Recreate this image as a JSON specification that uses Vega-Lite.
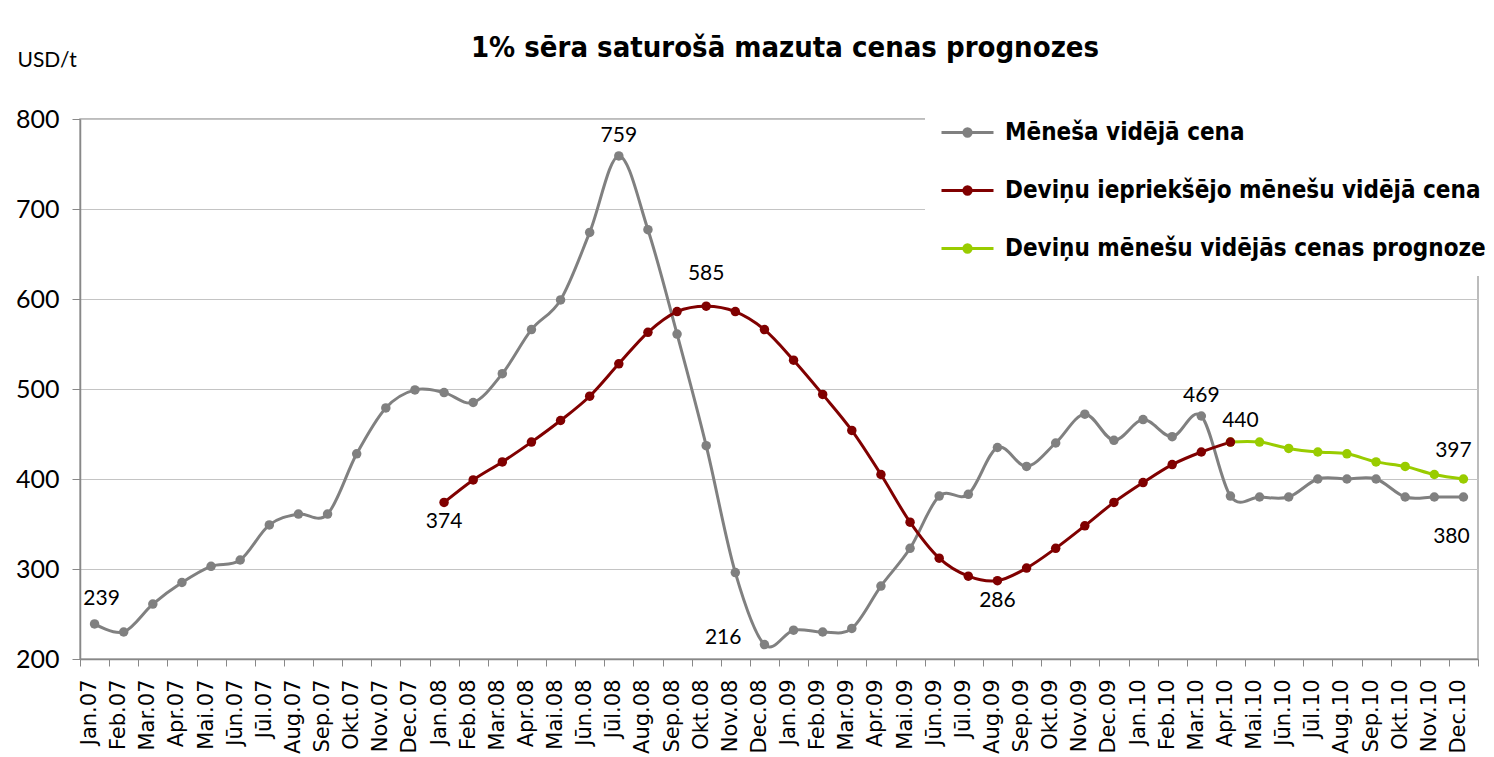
{
  "$schema": "https://vega.github.io/schema/vega-lite/v6.json",
  "width": 1398,
  "height": 540,
  "autosize": {"type": "none"},
  "padding": {"left": 80, "top": 119, "right": 16, "bottom": 98},
  "background": "white",
  "title": {
    "text": "1% sēra saturošā mazuta cenas prognozes",
    "font": "DejaVu Sans Condensed, DejaVu Sans",
    "fontSize": 29,
    "fontWeight": "bold",
    "color": "black",
    "anchor": "middle",
    "frame": "group",
    "baseline": "alphabetic",
    "offset": -37,
    "dx": 6
  },
  "config": {
    "view": {"stroke": "#a6a6a6", "strokeWidth": 1.5}
  },
  "data": {
    "values": [
      {"m": "Jan.07", "s": "Mēneša vidējā cena", "v": 239, "lab": 239},
      {"m": "Feb.07", "s": "Mēneša vidējā cena", "v": 230},
      {"m": "Mar.07", "s": "Mēneša vidējā cena", "v": 261},
      {"m": "Apr.07", "s": "Mēneša vidējā cena", "v": 285},
      {"m": "Mai.07", "s": "Mēneša vidējā cena", "v": 303},
      {"m": "Jūn.07", "s": "Mēneša vidējā cena", "v": 310},
      {"m": "Jūl.07", "s": "Mēneša vidējā cena", "v": 349},
      {"m": "Aug.07", "s": "Mēneša vidējā cena", "v": 361},
      {"m": "Sep.07", "s": "Mēneša vidējā cena", "v": 361},
      {"m": "Okt.07", "s": "Mēneša vidējā cena", "v": 428},
      {"m": "Nov.07", "s": "Mēneša vidējā cena", "v": 479},
      {"m": "Dec.07", "s": "Mēneša vidējā cena", "v": 499},
      {"m": "Jan.08", "s": "Mēneša vidējā cena", "v": 496},
      {"m": "Feb.08", "s": "Mēneša vidējā cena", "v": 485},
      {"m": "Mar.08", "s": "Mēneša vidējā cena", "v": 517},
      {"m": "Apr.08", "s": "Mēneša vidējā cena", "v": 566},
      {"m": "Mai.08", "s": "Mēneša vidējā cena", "v": 599},
      {"m": "Jūn.08", "s": "Mēneša vidējā cena", "v": 674},
      {"m": "Jūl.08", "s": "Mēneša vidējā cena", "v": 759, "lab": 759},
      {"m": "Aug.08", "s": "Mēneša vidējā cena", "v": 677},
      {"m": "Sep.08", "s": "Mēneša vidējā cena", "v": 561},
      {"m": "Okt.08", "s": "Mēneša vidējā cena", "v": 437},
      {"m": "Nov.08", "s": "Mēneša vidējā cena", "v": 296},
      {"m": "Dec.08", "s": "Mēneša vidējā cena", "v": 216, "lab": 216},
      {"m": "Jan.09", "s": "Mēneša vidējā cena", "v": 232},
      {"m": "Feb.09", "s": "Mēneša vidējā cena", "v": 230},
      {"m": "Mar.09", "s": "Mēneša vidējā cena", "v": 234},
      {"m": "Apr.09", "s": "Mēneša vidējā cena", "v": 281},
      {"m": "Mai.09", "s": "Mēneša vidējā cena", "v": 323},
      {"m": "Jūn.09", "s": "Mēneša vidējā cena", "v": 381},
      {"m": "Jūl.09", "s": "Mēneša vidējā cena", "v": 383},
      {"m": "Aug.09", "s": "Mēneša vidējā cena", "v": 435},
      {"m": "Sep.09", "s": "Mēneša vidējā cena", "v": 414},
      {"m": "Okt.09", "s": "Mēneša vidējā cena", "v": 440},
      {"m": "Nov.09", "s": "Mēneša vidējā cena", "v": 472},
      {"m": "Dec.09", "s": "Mēneša vidējā cena", "v": 443},
      {"m": "Jan.10", "s": "Mēneša vidējā cena", "v": 466},
      {"m": "Feb.10", "s": "Mēneša vidējā cena", "v": 447},
      {"m": "Mar.10", "s": "Mēneša vidējā cena", "v": 470, "lab": 469},
      {"m": "Apr.10", "s": "Mēneša vidējā cena", "v": 381},
      {"m": "Mai.10", "s": "Mēneša vidējā cena", "v": 380},
      {"m": "Jūn.10", "s": "Mēneša vidējā cena", "v": 380},
      {"m": "Jūl.10", "s": "Mēneša vidējā cena", "v": 400},
      {"m": "Aug.10", "s": "Mēneša vidējā cena", "v": 400},
      {"m": "Sep.10", "s": "Mēneša vidējā cena", "v": 400},
      {"m": "Okt.10", "s": "Mēneša vidējā cena", "v": 380},
      {"m": "Nov.10", "s": "Mēneša vidējā cena", "v": 380},
      {"m": "Dec.10", "s": "Mēneša vidējā cena", "v": 380, "lab": 380},
      {"m": "Apr.10", "s": "Deviņu mēnešu vidējās cenas prognoze", "v": 441},
      {"m": "Mai.10", "s": "Deviņu mēnešu vidējās cenas prognoze", "v": 441},
      {"m": "Jūn.10", "s": "Deviņu mēnešu vidējās cenas prognoze", "v": 434},
      {"m": "Jūl.10", "s": "Deviņu mēnešu vidējās cenas prognoze", "v": 430},
      {"m": "Aug.10", "s": "Deviņu mēnešu vidējās cenas prognoze", "v": 428},
      {"m": "Sep.10", "s": "Deviņu mēnešu vidējās cenas prognoze", "v": 419},
      {"m": "Okt.10", "s": "Deviņu mēnešu vidējās cenas prognoze", "v": 414},
      {"m": "Nov.10", "s": "Deviņu mēnešu vidējās cenas prognoze", "v": 405},
      {"m": "Dec.10", "s": "Deviņu mēnešu vidējās cenas prognoze", "v": 400, "lab": 397},
      {"m": "Jan.08", "s": "Deviņu iepriekšējo mēnešu vidējā cena", "v": 374, "lab": 374},
      {"m": "Feb.08", "s": "Deviņu iepriekšējo mēnešu vidējā cena", "v": 399},
      {"m": "Mar.08", "s": "Deviņu iepriekšējo mēnešu vidējā cena", "v": 419},
      {"m": "Apr.08", "s": "Deviņu iepriekšējo mēnešu vidējā cena", "v": 441},
      {"m": "Mai.08", "s": "Deviņu iepriekšējo mēnešu vidējā cena", "v": 465},
      {"m": "Jūn.08", "s": "Deviņu iepriekšējo mēnešu vidējā cena", "v": 492},
      {"m": "Jūl.08", "s": "Deviņu iepriekšējo mēnešu vidējā cena", "v": 528},
      {"m": "Aug.08", "s": "Deviņu iepriekšējo mēnešu vidējā cena", "v": 563},
      {"m": "Sep.08", "s": "Deviņu iepriekšējo mēnešu vidējā cena", "v": 586},
      {"m": "Okt.08", "s": "Deviņu iepriekšējo mēnešu vidējā cena", "v": 592, "lab": 585},
      {"m": "Nov.08", "s": "Deviņu iepriekšējo mēnešu vidējā cena", "v": 586},
      {"m": "Dec.08", "s": "Deviņu iepriekšējo mēnešu vidējā cena", "v": 566},
      {"m": "Jan.09", "s": "Deviņu iepriekšējo mēnešu vidējā cena", "v": 532},
      {"m": "Feb.09", "s": "Deviņu iepriekšējo mēnešu vidējā cena", "v": 494},
      {"m": "Mar.09", "s": "Deviņu iepriekšējo mēnešu vidējā cena", "v": 454},
      {"m": "Apr.09", "s": "Deviņu iepriekšējo mēnešu vidējā cena", "v": 405},
      {"m": "Mai.09", "s": "Deviņu iepriekšējo mēnešu vidējā cena", "v": 352},
      {"m": "Jūn.09", "s": "Deviņu iepriekšējo mēnešu vidējā cena", "v": 312},
      {"m": "Jūl.09", "s": "Deviņu iepriekšējo mēnešu vidējā cena", "v": 292},
      {"m": "Aug.09", "s": "Deviņu iepriekšējo mēnešu vidējā cena", "v": 287, "lab": 286},
      {"m": "Sep.09", "s": "Deviņu iepriekšējo mēnešu vidējā cena", "v": 301},
      {"m": "Okt.09", "s": "Deviņu iepriekšējo mēnešu vidējā cena", "v": 323},
      {"m": "Nov.09", "s": "Deviņu iepriekšējo mēnešu vidējā cena", "v": 348},
      {"m": "Dec.09", "s": "Deviņu iepriekšējo mēnešu vidējā cena", "v": 374},
      {"m": "Jan.10", "s": "Deviņu iepriekšējo mēnešu vidējā cena", "v": 396},
      {"m": "Feb.10", "s": "Deviņu iepriekšējo mēnešu vidējā cena", "v": 416},
      {"m": "Mar.10", "s": "Deviņu iepriekšējo mēnešu vidējā cena", "v": 430},
      {"m": "Apr.10", "s": "Deviņu iepriekšējo mēnešu vidējā cena", "v": 441, "lab": 440}
    ]
  },
  "encoding": {
    "x": {
      "field": "m",
      "type": "nominal",
      "sort": null,
      "scale": {"type": "band", "paddingInner": 0, "paddingOuter": 0},
      "axis": {
        "title": null,
        "labelAngle": -90,
        "labelFont": "DejaVu Sans",
        "labelFontSize": 21,
        "labelColor": "black",
        "labelPadding": 13,
        "labelOffset": -5,
        "tickBand": "extent",
        "tickSize": 7,
        "tickColor": "#888888",
        "domainColor": "#888888",
        "domainWidth": 1.5,
        "grid": false
      }
    },
    "y": {
      "field": "v",
      "type": "quantitative",
      "scale": {"domain": [200, 800], "nice": false, "zero": false},
      "axis": {
        "values": [200, 300, 400, 500, 600, 700, 800],
        "title": "USD/t",
        "titleAngle": 0,
        "titleAlign": "left",
        "titleBaseline": "middle",
        "titleX": -63,
        "titleY": -59,
        "titleFont": "Lato",
        "titleFontSize": 21,
        "titleFontWeight": "normal",
        "titleColor": "black",
        "labelFont": "Lato",
        "labelFontSize": 25,
        "labelColor": "black",
        "labelPadding": 13,
        "tickSize": 8,
        "tickColor": "#888888",
        "domainColor": "#888888",
        "domainWidth": 1.5,
        "grid": true,
        "gridColor": "#c4c4c4",
        "gridWidth": 1
      }
    }
  },
  "layer": [
    {
      "mark": {"type": "line", "interpolate": "cardinal", "strokeWidth": 3},
      "encoding": {
        "color": {
          "field": "s",
          "type": "nominal",
          "scale": {
            "domain": ["Mēneša vidējā cena", "Deviņu iepriekšējo mēnešu vidējā cena", "Deviņu mēnešu vidējās cenas prognoze"],
            "range": ["#808080", "#800000", "#99cc00"]
          },
          "legend": {
            "title": null,
            "orient": "none",
            "legendX": 845,
            "legendY": -29,
            "direction": "vertical",
            "padding": 15,
            "fillColor": "white",
            "symbolType": "M-1,0H1M-0.14,0A0.14,0.14,0,1,1,0.14,0A0.14,0.14,0,1,1,-0.14,0Z",
            "symbolSize": 2704,
            "symbolStrokeWidth": 3,
            "symbolOpacity": 1,
            "labelFont": "DejaVu Sans Condensed, DejaVu Sans",
            "labelFontSize": 24,
            "labelFontWeight": "bold",
            "labelColor": "black",
            "labelOffset": 10,
            "labelLimit": 0,
            "rowPadding": 18,
            "encode": {
              "symbols": {
                "update": {
                  "fill": {"scale": "color", "field": "value"},
                  "stroke": {"scale": "color", "field": "value"}
                }
              }
            }
          }
        }
      }
    },
    {
      "mark": {"type": "point", "filled": true, "size": 90, "opacity": 1},
      "encoding": {
        "color": {
          "field": "s",
          "type": "nominal",
          "legend": null
        }
      }
    },
    {
      "transform": [{"filter": {"field": "lab", "oneOf": [759, 469]}}],
      "mark": {"type": "text", "font": "Lato", "fontSize": 21, "color": "black", "baseline": "middle", "dy": -20},
      "encoding": {"text": {"field": "lab", "type": "nominal"}}
    },
    {
      "transform": [{"filter": {"field": "lab", "oneOf": [585]}}],
      "mark": {"type": "text", "font": "Lato", "fontSize": 21, "color": "black", "baseline": "middle", "dy": -32},
      "encoding": {"text": {"field": "lab", "type": "nominal"}}
    },
    {
      "transform": [{"filter": {"field": "lab", "oneOf": [440]}}],
      "mark": {"type": "text", "font": "Lato", "fontSize": 21, "color": "black", "baseline": "middle", "dx": 10, "dy": -21},
      "encoding": {"text": {"field": "lab", "type": "nominal"}}
    },
    {
      "transform": [{"filter": {"field": "lab", "oneOf": [397]}}],
      "mark": {"type": "text", "font": "Lato", "fontSize": 21, "color": "black", "baseline": "middle", "dx": -10, "dy": -28},
      "encoding": {"text": {"field": "lab", "type": "nominal"}}
    },
    {
      "transform": [{"filter": {"field": "lab", "oneOf": [239]}}],
      "mark": {"type": "text", "font": "Lato", "fontSize": 21, "color": "black", "baseline": "middle", "dx": 7, "dy": -25},
      "encoding": {"text": {"field": "lab", "type": "nominal"}}
    },
    {
      "transform": [{"filter": {"field": "lab", "oneOf": [374, 286]}}],
      "mark": {"type": "text", "font": "Lato", "fontSize": 21, "color": "black", "baseline": "middle", "dy": 20},
      "encoding": {"text": {"field": "lab", "type": "nominal"}}
    },
    {
      "transform": [{"filter": {"field": "lab", "oneOf": [380]}}],
      "mark": {"type": "text", "font": "Lato", "fontSize": 21, "color": "black", "baseline": "middle", "dx": -12, "dy": 40},
      "encoding": {"text": {"field": "lab", "type": "nominal"}}
    },
    {
      "transform": [{"filter": {"field": "lab", "oneOf": [216]}}],
      "mark": {"type": "text", "font": "Lato", "fontSize": 21, "color": "black", "baseline": "middle", "align": "right", "dx": -23, "dy": -7},
      "encoding": {"text": {"field": "lab", "type": "nominal"}}
    }
  ]
}
